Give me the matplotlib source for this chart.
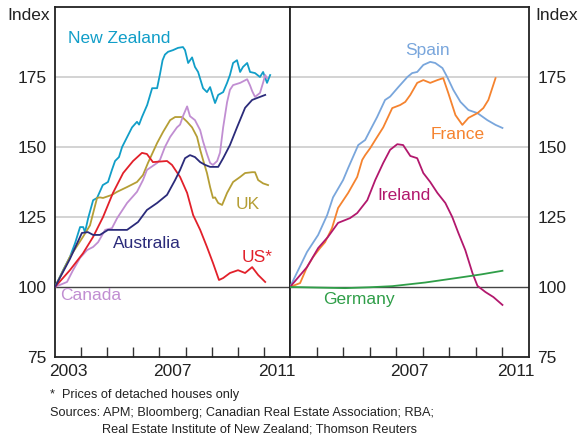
import matplotlib
matplotlib.use("Agg")
import matplotlib.pyplot as plt

plt.rcParams['font.family'] = ['Liberation Sans', 'DejaVu Sans']

# ---- left panel: (year, index)
nz_x = [2003.0, 2003.31, 2003.57, 2003.77, 2003.96, 2004.08, 2004.15, 2004.27, 2004.46, 2004.61,
        2004.83, 2005.03, 2005.18, 2005.30, 2005.45, 2005.57, 2005.95, 2006.14, 2006.22, 2006.33,
        2006.53, 2006.72, 2006.91, 2007.02, 2007.12, 2007.21, 2007.33, 2007.52, 2007.71, 2007.90,
        2007.98, 2008.10, 2008.25, 2008.36, 2008.48, 2008.67, 2008.82, 2008.94, 2009.05, 2009.13,
        2009.25, 2009.44, 2009.59, 2009.70, 2009.82, 2009.97, 2010.09, 2010.20, 2010.36, 2010.47,
        2010.66, 2010.85, 2010.97, 2011.12, 2011.24]
nz_y = [100, 106, 110.7, 115.7, 121.4, 121.4, 119.6, 124.6, 131, 131.8,
        136.4, 137.5, 141.8, 145, 146.4, 150, 157, 159, 158, 160.7,
        165, 171, 171, 176, 181, 183, 184, 184.6, 185.4, 185.7,
        184.6, 180, 182, 178.6, 176.8, 171, 169.6, 171.4, 168, 165.7,
        168.6, 169.6, 172.9, 175.7, 180, 181, 176.8, 178.6, 180, 176.8,
        176.4, 175, 176.8, 172.9, 175.7]

au_x = [2003.0, 2003.57, 2004.03, 2004.26, 2004.46, 2004.72, 2005.03, 2005.76, 2006.18, 2006.52,
        2006.91, 2007.29, 2007.60, 2007.79, 2007.98, 2008.17, 2008.36, 2008.56, 2008.75, 2008.94,
        2009.25, 2009.44, 2009.70, 2009.97, 2010.28, 2010.55, 2010.74, 2011.05]
au_y = [100, 110, 119.3, 119.6, 118.6, 118.6, 120.4, 120.4, 123.2, 127.5,
        130, 132.9, 138.2, 141.8, 146, 147.1, 146.4, 144.6, 143.6, 142.9,
        142.9, 146, 150.7, 157, 164, 166.8, 167.5, 168.6]

uk_x = [2003.0, 2003.57, 2004.07, 2004.34, 2004.61, 2004.72, 2004.84, 2005.18, 2005.38, 2005.76,
        2006.14, 2006.37, 2006.56, 2006.91, 2007.14, 2007.41, 2007.60, 2007.87, 2008.06, 2008.25,
        2008.44, 2008.56, 2008.67, 2008.82, 2008.94, 2009.05, 2009.13, 2009.25, 2009.40, 2009.59,
        2009.82, 2010.09, 2010.28, 2010.55, 2010.66, 2010.78, 2010.97, 2011.16]
uk_y = [100, 110.7, 117.9, 122, 131.8, 132, 131.8, 132.9, 134, 135.7,
        137.5, 140, 144.3, 151.4, 155.4, 159.6, 160.7, 160.7, 159, 157,
        153.6, 149, 145.4, 140.7, 135.7, 131.8, 132, 130, 129.3, 133.6,
        137.5, 139.3, 140.7, 141, 141, 138.2, 137, 136.4]

us_x = [2003.0, 2003.57, 2004.07, 2004.46, 2004.84, 2005.22, 2005.61, 2005.99, 2006.33, 2006.52,
        2006.75, 2007.29, 2007.48, 2007.79, 2008.06, 2008.29, 2008.56, 2008.82, 2009.05, 2009.28,
        2009.44, 2009.70, 2010.01, 2010.28, 2010.55, 2010.78, 2011.05]
us_y = [100, 106, 112, 117.9, 125, 133.6, 140.7, 145, 147.9, 147.5,
        144.6, 145, 143.6, 139.3, 133.6, 125.7, 120.4, 114.3, 108.6, 102.5,
        103.2, 105, 106, 105, 107.1, 104.3, 101.8]

ca_x = [2003.0, 2003.46, 2003.69, 2003.96, 2004.23, 2004.46, 2004.65, 2004.92, 2005.18, 2005.38,
        2005.76, 2006.14, 2006.37, 2006.52, 2006.91, 2007.02, 2007.21, 2007.41, 2007.67, 2007.79,
        2007.90, 2008.06, 2008.17, 2008.36, 2008.56, 2008.67, 2008.82, 2008.94, 2009.05, 2009.21,
        2009.32, 2009.44, 2009.59, 2009.70, 2009.82, 2010.09, 2010.36, 2010.47, 2010.55, 2010.66,
        2010.85, 2010.97, 2011.05, 2011.12]
ca_y = [100, 101.8, 106, 110.4, 113.2, 114.3, 116, 120.4, 121, 124.6,
        130, 134, 138.2, 141.8, 144.3, 145.4, 150, 153.6, 157, 158,
        161, 164.5, 161, 159.6, 156, 152, 147.5, 144.3, 143.6, 145,
        148, 157, 166, 170.4, 172.1, 172.9, 174.2, 172, 170, 167.9,
        169.3, 173, 175.7, 174.6]

# ---- right panel
es_x = [2003.0, 2003.64, 2004.06, 2004.40, 2004.62, 2005.00, 2005.19, 2005.57, 2005.83, 2006.02,
        2006.28, 2006.58, 2006.77, 2007.08, 2007.42, 2007.60, 2007.79, 2008.02, 2008.28, 2008.47,
        2008.74, 2008.92, 2009.15, 2009.42, 2009.72, 2010.06, 2010.43, 2010.74, 2011.00]
es_y = [100, 112.5, 118.6, 125.7, 132, 138.2, 142.5, 150.7, 152.5, 156,
        160.7, 166.8, 168, 171.4, 175, 176.4, 176.8, 179.3, 180.4, 180,
        178.2, 175, 170.4, 166.1, 163.2, 162.1, 159.6, 157.9, 156.8]

fr_x = [2003.0, 2003.38, 2003.64, 2003.87, 2004.13, 2004.32, 2004.58, 2004.81, 2005.19, 2005.53,
        2005.72, 2005.83, 2006.02, 2006.21, 2006.51, 2006.85, 2007.15, 2007.34, 2007.53, 2007.79,
        2008.02, 2008.28, 2008.55, 2008.77, 2008.96, 2009.23, 2009.49, 2009.72, 2010.06, 2010.28,
        2010.47, 2010.74]
fr_y = [100, 101.4, 107.1, 110.7, 113.9, 116, 121, 128.2, 133.6, 139.3,
        145.4, 147.1, 149.6, 152.5, 157, 163.9, 165, 166.1, 168.6, 172.9,
        173.9, 172.9, 173.9, 174.6, 169.3, 161.4, 157.9, 160.4, 162.1, 163.9,
        166.8, 174.6]

ie_x = [2003.0, 2003.64, 2004.06, 2004.43, 2004.81, 2005.26, 2005.53, 2005.91, 2006.21, 2006.51,
        2006.77, 2007.04, 2007.26, 2007.53, 2007.79, 2008.02, 2008.28, 2008.55, 2008.85, 2009.11,
        2009.34, 2009.60, 2009.87, 2010.06, 2010.36, 2010.66, 2011.00]
ie_y = [100, 107.1, 113.9, 117.9, 122.9, 124.6, 126.4, 131, 138.2, 144.3,
        149, 151, 150.7, 146.8, 146, 140.7, 137.5, 133.6, 130, 125,
        119.3, 113.2, 105, 100.4, 98.2, 96.4, 93.6]

de_x = [2003.0, 2004.0, 2005.08, 2006.0, 2006.85, 2008.09, 2009.34, 2010.2, 2011.0]
de_y = [100, 99.8, 99.6, 99.9, 100.3, 101.6, 103.3, 104.5, 105.8]

left_series = [
    (nz_x, nz_y, '#119ec8', 'New Zealand', 2003.5, 188.9),
    (uk_x, uk_y, '#b59e35', 'UK', 2009.9, 129.6),
    (ca_x, ca_y, '#c18ed2', 'Canada', 2003.19, 96.8),
    (us_x, us_y, '#e2202a', 'US*', 2010.13, 110.7),
    (au_x, au_y, '#2b2b7a', 'Australia', 2005.22, 115.7),
]
right_series = [
    (es_x, es_y, '#79a6dc', 'Spain', 2007.34, 184.6),
    (fr_x, fr_y, '#f5832f', 'France', 2008.28, 154.3),
    (ie_x, ie_y, '#b2186d', 'Ireland', 2006.28, 132.5),
    (de_x, de_y, '#2f9e48', 'Germany', 2004.25, 95.4),
]
left_years = ['2003', '2007', '2011']
right_years = ['2007', '2011']

fig = plt.figure(figsize=(5.79, 4.37), dpi=100)
bottom = 80 / 437
height = 350 / 437
axl = fig.add_axes([55 / 579, bottom, 235 / 579, height])
axr = fig.add_axes([290 / 579, bottom, 239 / 579, height])

for ax, series, years in [(axl, left_series, left_years), (axr, right_series, right_years)]:
    ax.set_xlim(2003, 2012)
    ax.set_ylim(75, 200)
    for v in [125, 150, 175]:
        ax.axhline(v, color='#c8c8c8', lw=1.1, zorder=0)
    ax.axhline(100, color='#444444', lw=1.0, zorder=1)
    for xs, ys, col, name, tx, ty in series:
        ax.plot(xs, ys, color=col, lw=1.3, zorder=3)
        ax.text(tx, ty, name, color=col, fontsize=12.5, ha='left', va='center')
    ax.set_xticks(range(2004, 2012))
    ax.set_xticklabels([])
    ax.set_xticks([int(y) + 0.5 for y in years], minor=True)
    ax.set_xticklabels(years, minor=True)
    ax.tick_params(axis='x', which='major', direction='in', length=7, width=1, color='#333333')
    ax.tick_params(axis='x', which='minor', length=0, labelsize=12.5, pad=5, colors='#222222')
    ax.set_yticks([75, 100, 125, 150, 175])
    ax.tick_params(axis='y', length=0, labelsize=12.5, colors='#222222', pad=6)
    for s in ax.spines.values():
        s.set_color('#222222')
        s.set_linewidth(1.3)

axr.yaxis.tick_right()

fig.text(7 / 579, 1 - 15 / 437, 'Index', fontsize=12.5, ha='left', va='center', color='#222222')
fig.text(535 / 579, 1 - 15 / 437, 'Index', fontsize=12.5, ha='left', va='center', color='#222222')

fig.text(50 / 579, 1 - 395 / 437, '*  Prices of detached houses only', fontsize=9.2,
         ha='left', va='center', color='#222222')
fig.text(50 / 579, 1 - 413 / 437, 'Sources: APM; Bloomberg; Canadian Real Estate Association; RBA;',
         fontsize=9.2, ha='left', va='center', color='#222222')
fig.text(102 / 579, 1 - 429 / 437, 'Real Estate Institute of New Zealand; Thomson Reuters',
         fontsize=9.2, ha='left', va='center', color='#222222')

fig.savefig('out.png', dpi=100)
